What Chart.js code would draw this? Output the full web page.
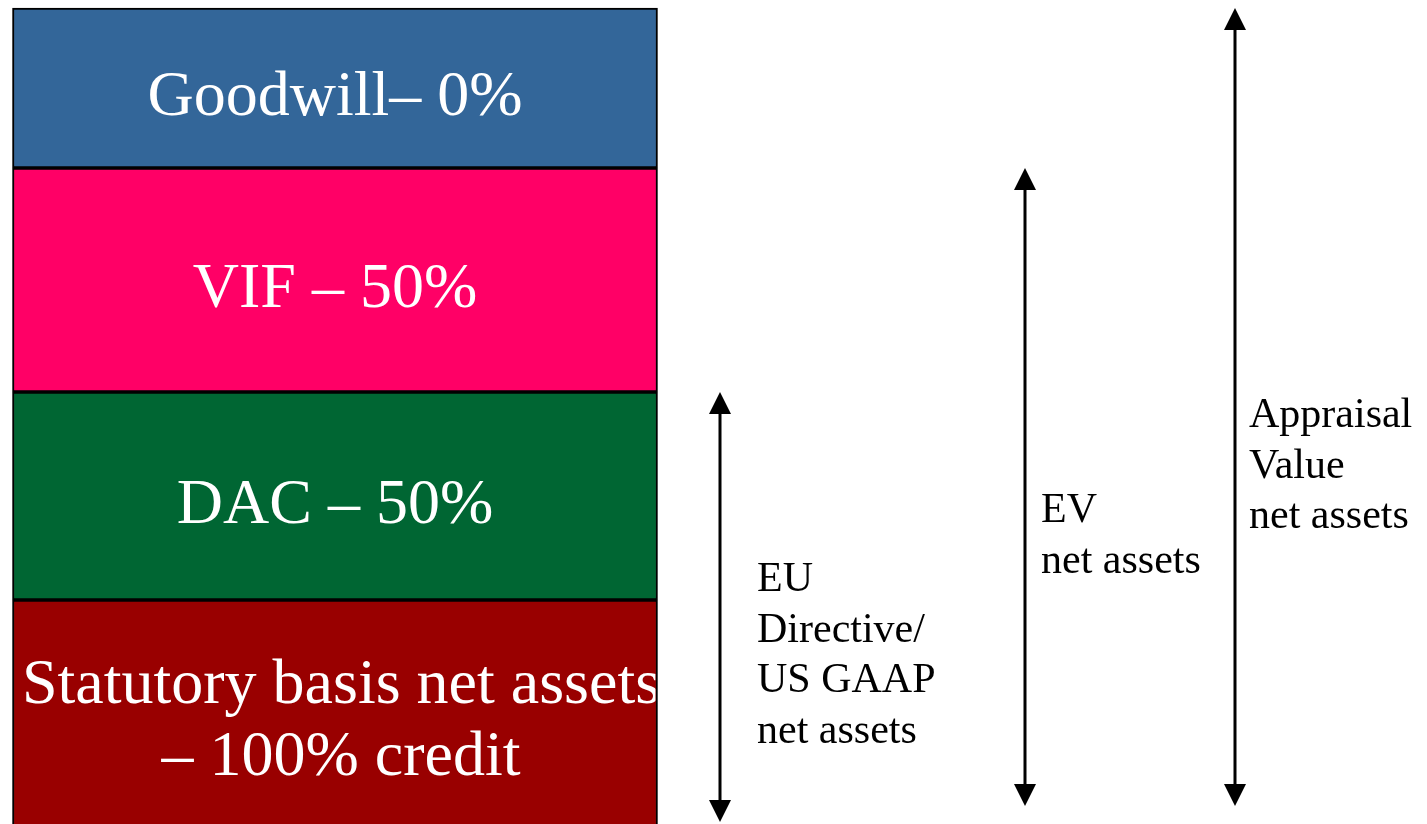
<!DOCTYPE html>
<html>
<head>
<meta charset="utf-8">
<script src="https://cdn.jsdelivr.net/npm/chart.js@4/dist/chart.umd.min.js"></script>
<style>
    html, body { margin: 0; padding: 0; background: #fff; }
    canvas { display: block; }
</style>
</head>
<body>
<canvas id="grafico" width="1427" height="824"></canvas>
<script>
// Segmentos de la barra, de abajo hacia arriba
var segmentos = [["Statutory basis net assets", "– 100% credit"], ["DAC – 50%"], ["VIF – 50%"], ["Goodwill– 0%"]];
var alturas = [30, 26, 28, 20];

// Flechas de la derecha: texto y rango que cubren (mismas unidades que la barra)
var flechasTexto = [["EU", "Directive/", "US GAAP", "net assets"], ["EV", "net assets"], ["Appraisal", "Value", "net assets"]];
var flechasDesde = [2.25, 4.25, 4.25];
var flechasHasta = [56, 84, 104];

var colores = ["#990000", "#006633", "#ff0066", "#336699"];
var fuente = "'Liberation Serif', 'Times New Roman', serif";

// posicion de las flechas y sus textos (pixeles)
var flechasPos = [
    { x: 720, texto: 757, base: 591 },
    { x: 1025, texto: 1041, base: 522 },
    { x: 1235, texto: 1249, base: 427 },
];

/**
 * Textos blancos dentro de cada segmento
 */
var pluginEtiquetas = {
    id: "etiquetas",
    afterDatasetsDraw: function (chart) {
        var ctx = chart.ctx;
        var area = chart.chartArea;
        ctx.save();
        ctx.font = "64px " + fuente;
        ctx.fillStyle = "#fff";
        ctx.textAlign = "center";
        ctx.textBaseline = "alphabetic";
        chart.data.datasets.forEach(function (ds, i) {
            var bar = chart.getDatasetMeta(i).data[0];
            var arriba = Math.max(bar.y, area.top);
            var abajo = Math.min(bar.base, area.bottom);
            var centro = (arriba + abajo) / 2;
            var lineas = segmentos[i];
            ctx.save();
            ctx.beginPath();
            ctx.rect(bar.x - bar.width / 2 + 2, arriba, bar.width - 4, abajo - arriba);
            ctx.clip();
            lineas.forEach(function (l, k) {
                var y = centro + 27 + (k - (lineas.length - 1) / 2) * 72;
                ctx.fillText(l, bar.x + (lineas.length > 1 ? 6 : 0), y);
            });
            ctx.restore();
        });
        ctx.restore();
    },
};

/**
 * Flechas de doble punta con su texto
 */
var pluginFlechas = {
    id: "flechas",
    afterDraw: function (chart) {
        var ctx = chart.ctx;
        var sx = chart.scales.x;
        var sy = chart.scales.y;
        ctx.save();
        ctx.strokeStyle = "#000";
        ctx.fillStyle = "#000";
        ctx.lineWidth = 3;
        for (var i = 0; i < flechasTexto.length; i++) {
            var px = sx.getPixelForValue(flechasPos[i].x);
            var arriba = sy.getPixelForValue(flechasHasta[i]);
            var abajo = sy.getPixelForValue(flechasDesde[i]);
            var h = 22, w = 11;
            ctx.beginPath();
            ctx.moveTo(px, arriba + h);
            ctx.lineTo(px, abajo - h);
            ctx.stroke();
            ctx.beginPath();
            ctx.moveTo(px, arriba);
            ctx.lineTo(px - w, arriba + h);
            ctx.lineTo(px + w, arriba + h);
            ctx.closePath();
            ctx.fill();
            ctx.beginPath();
            ctx.moveTo(px, abajo);
            ctx.lineTo(px - w, abajo - h);
            ctx.lineTo(px + w, abajo - h);
            ctx.closePath();
            ctx.fill();

            ctx.font = "42px " + fuente;
            ctx.textAlign = "left";
            ctx.textBaseline = "alphabetic";
            flechasTexto[i].forEach(function (l, k) {
                ctx.fillText(l, flechasPos[i].texto, flechasPos[i].base + k * 50.5);
            });
        }
        ctx.restore();
    },
};

function cargaGrafico() {
    var datos = {
        datasets: segmentos.map(function (s, i) {
            return {
                label: s.join(" "),
                data: [{ x: 335, y: alturas[i] }],
                backgroundColor: colores[i],
                borderColor: "#000",
                borderWidth: 2,
                borderSkipped: false,
                barThickness: 645,
            };
        }),
    };
    new Chart(document.getElementById("grafico"), {
        type: "bar",
        data: datos,
        options: {
            responsive: false,
            animation: false,
            devicePixelRatio: 1,
            layout: { padding: 0 },
            plugins: {
                legend: { display: false },
                tooltip: { enabled: false },
            },
            scales: {
                x: { type: "linear", min: 0, max: 1427, offset: false, stacked: true, display: false },
                y: { min: 2, max: 105, stacked: true, display: false },
            },
        },
        plugins: [pluginEtiquetas, pluginFlechas],
    });
}

cargaGrafico();
</script>
</body>
</html>
